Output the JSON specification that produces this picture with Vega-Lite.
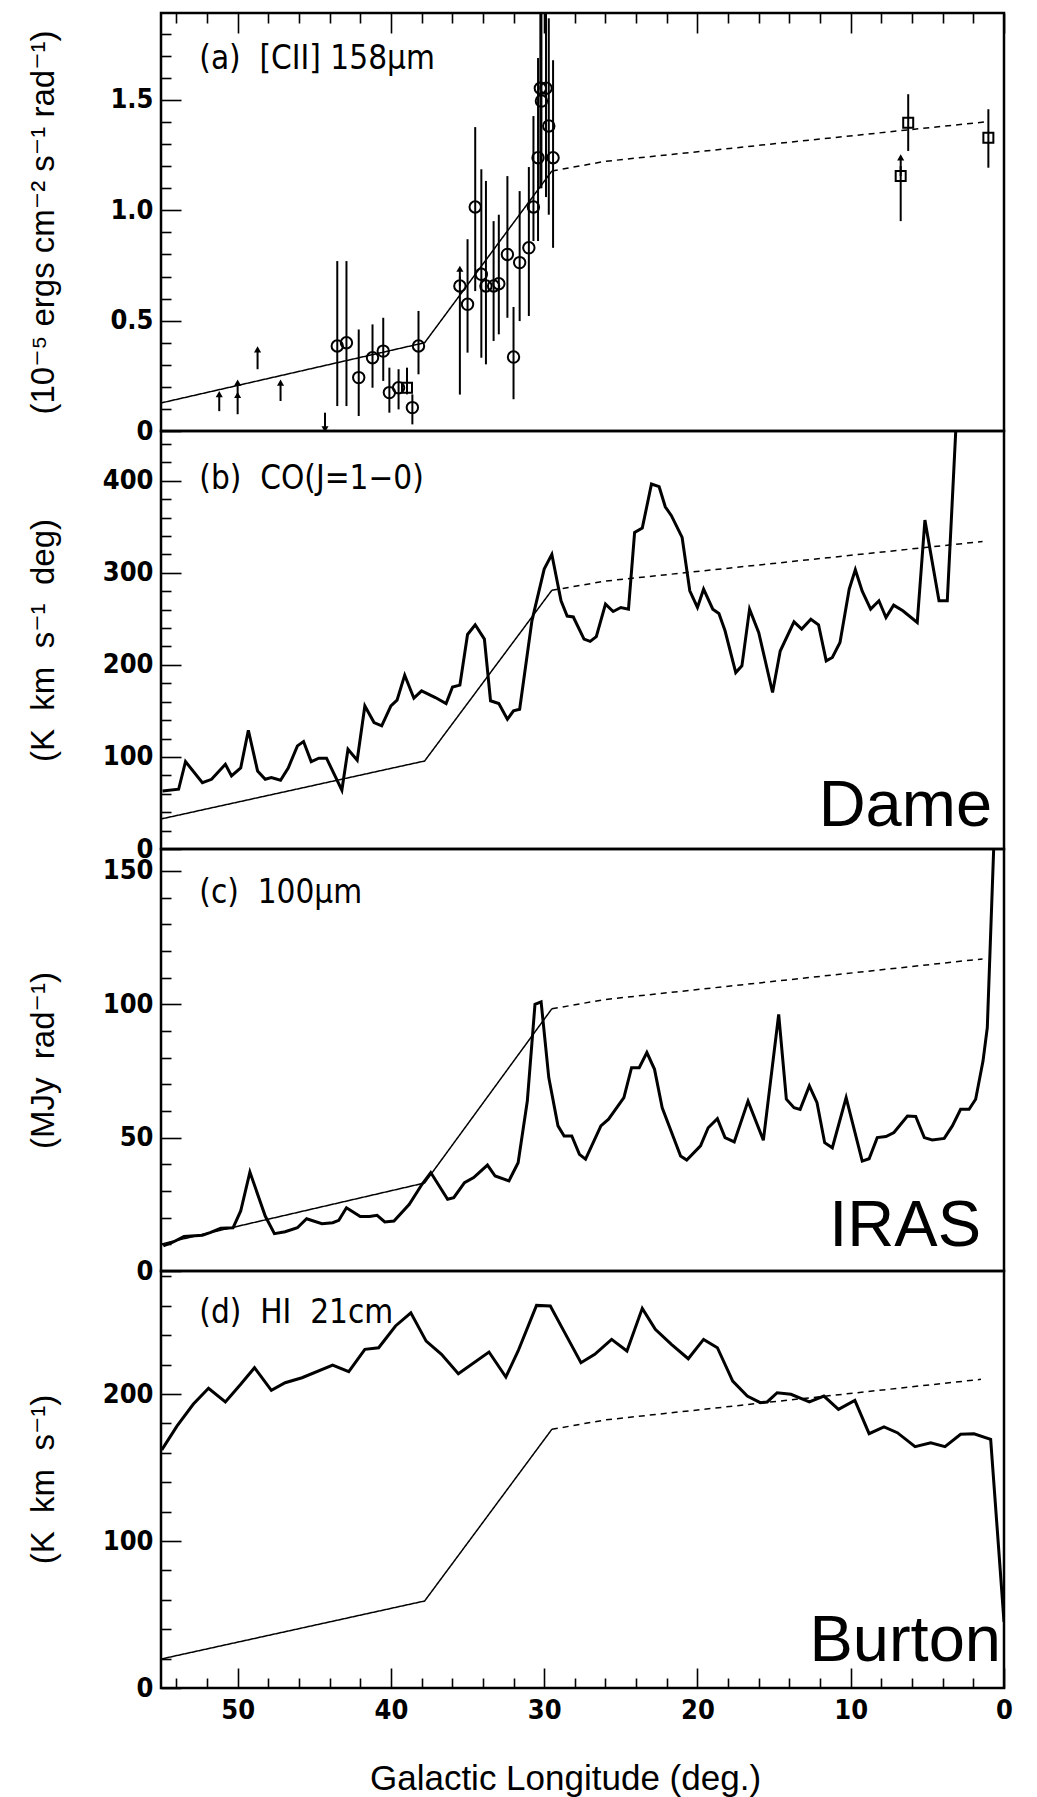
{
  "$schema": "https://vega.github.io/schema/vega-lite/v6.json",
  "padding": {"left": 25, "top": 10, "right": 31, "bottom": 4},
  "bounds": "flush",
  "spacing": 0,
  "resolve": {"scale": {"x": "independent", "y": "independent"}},
  "config": {
    "view": {"stroke": "black", "strokeWidth": 2.5},
    "axis": {
      "domain": false, "grid": false, "tickColor": "black", "tickWidth": 1.6,
      "labelColor": "black", "labelFont": "Liberation Sans Narrow, DejaVu Sans Condensed, Liberation Sans, sans-serif",
      "labelFontWeight": "bold", "labelFontSize": 27, "labelOverlap": false, "labelFlush": false,
      "titleColor": "black", "titleFont": "Liberation Sans, DejaVu Sans, sans-serif", "titleFontSize": 33, "titleFontWeight": "normal"
    }
  },
  "datasets": {
    "model": [
      {"p": "a", "seg": "solid", "l": 55, "v": 0.127}, {"p": "a", "seg": "solid", "l": 37.8, "v": 0.40}, {"p": "a", "seg": "solid", "l": 29.5, "v": 1.178},
      {"p": "a", "seg": "dashed", "l": 29.5, "v": 1.178}, {"p": "a", "seg": "dashed", "l": 26, "v": 1.222}, {"p": "a", "seg": "dashed", "l": 1.3, "v": 1.40},
      {"p": "b", "seg": "solid", "l": 55, "v": 32.6}, {"p": "b", "seg": "solid", "l": 37.8, "v": 95.6}, {"p": "b", "seg": "solid", "l": 29.5, "v": 281},
      {"p": "b", "seg": "dashed", "l": 29.5, "v": 281}, {"p": "b", "seg": "dashed", "l": 26, "v": 291}, {"p": "b", "seg": "dashed", "l": 1.4, "v": 334},
      {"p": "c", "seg": "solid", "l": 55, "v": 10.1}, {"p": "c", "seg": "solid", "l": 37.8, "v": 33}, {"p": "c", "seg": "solid", "l": 29.5, "v": 98.3},
      {"p": "c", "seg": "dashed", "l": 29.5, "v": 98.3}, {"p": "c", "seg": "dashed", "l": 26, "v": 101.8}, {"p": "c", "seg": "dashed", "l": 1.4, "v": 117},
      {"p": "d", "seg": "solid", "l": 55, "v": 19.7}, {"p": "d", "seg": "solid", "l": 37.8, "v": 59.2}, {"p": "d", "seg": "solid", "l": 29.5, "v": 176},
      {"p": "d", "seg": "dashed", "l": 29.5, "v": 176}, {"p": "d", "seg": "dashed", "l": 26, "v": 182.4}, {"p": "d", "seg": "dashed", "l": 1.5, "v": 210}
    ],
    "cii": [
      {"k": "c", "l": 43.5, "v": 0.385, "lo": 0.113, "hi": 0.77},
      {"k": "c", "l": 42.9, "v": 0.40, "lo": 0.113, "hi": 0.77},
      {"k": "c", "l": 42.1, "v": 0.242, "lo": 0.068, "hi": 0.46},
      {"k": "c", "l": 41.2, "v": 0.332, "lo": 0.196, "hi": 0.483},
      {"k": "c", "l": 40.5, "v": 0.362, "lo": 0.227, "hi": 0.513},
      {"k": "c", "l": 40.1, "v": 0.174, "lo": 0.083, "hi": 0.287},
      {"k": "c", "l": 39.5, "v": 0.196, "lo": 0.098, "hi": 0.28},
      {"k": "s", "l": 38.95, "v": 0.196, "lo": 0.166, "hi": 0.287},
      {"k": "c", "l": 38.6, "v": 0.106, "lo": 0.03, "hi": 0.166},
      {"k": "c", "l": 38.2, "v": 0.385, "lo": 0.257, "hi": 0.544},
      {"k": "c", "l": 35.5, "v": 0.657, "lo": 0.165, "hi": 0.70},
      {"k": "c", "l": 35.0, "v": 0.574, "lo": 0.355, "hi": 0.869},
      {"k": "c", "l": 34.5, "v": 1.015, "lo": 0.634, "hi": 1.377},
      {"k": "c", "l": 34.1, "v": 0.71, "lo": 0.332, "hi": 1.186},
      {"k": "c", "l": 33.8, "v": 0.657, "lo": 0.302, "hi": 1.133},
      {"k": "c", "l": 33.3, "v": 0.657, "lo": 0.408, "hi": 0.951},
      {"k": "c", "l": 32.96, "v": 0.667, "lo": 0.438, "hi": 0.98},
      {"k": "c", "l": 32.4, "v": 0.80, "lo": 0.513, "hi": 1.155},
      {"k": "c", "l": 32.0, "v": 0.335, "lo": 0.144, "hi": 0.562},
      {"k": "c", "l": 31.6, "v": 0.763, "lo": 0.498, "hi": 1.087},
      {"k": "c", "l": 31.0, "v": 0.83, "lo": 0.521, "hi": 1.196},
      {"k": "c", "l": 30.7, "v": 1.015, "lo": 0.861, "hi": 1.427},
      {"k": "c", "l": 30.4, "v": 1.238, "lo": 0.861, "hi": 1.69},
      {"k": "c", "l": 30.25, "v": 1.553, "lo": 1.10, "hi": 1.95},
      {"k": "c", "l": 30.18, "v": 1.495, "lo": 1.10, "hi": 1.95},
      {"k": "c", "l": 29.88, "v": 1.553, "lo": 1.06, "hi": 1.95},
      {"k": "c", "l": 29.7, "v": 1.382, "lo": 0.98, "hi": 1.87},
      {"k": "c", "l": 29.42, "v": 1.238, "lo": 0.83, "hi": 1.68},
      {"k": "s", "l": 6.25, "v": 1.397, "lo": 1.269, "hi": 1.526},
      {"k": "s", "l": 6.74, "v": 1.155, "lo": 0.951, "hi": 1.20},
      {"k": "s", "l": 1.02, "v": 1.329, "lo": 1.193, "hi": 1.458}
    ],
    "arrows": [
      {"d": "up", "l": 51.2, "b": 0.09, "h": 0.167},
      {"d": "up", "l": 50.0, "b": 0.076, "h": 0.163},
      {"d": "up", "l": 50.0, "b": 0.163, "h": 0.219},
      {"d": "up", "l": 48.7, "b": 0.28, "h": 0.37},
      {"d": "up", "l": 47.2, "b": 0.136, "h": 0.219},
      {"d": "up", "l": 35.5, "b": 0.657, "h": 0.735},
      {"d": "up", "l": 6.74, "b": 1.155, "h": 1.24},
      {"d": "down", "l": 44.3, "b": 0.083, "h": 0.008}
    ],
    "co": [
      {"l": 54.9, "v": 63}, {"l": 53.85, "v": 64.9}, {"l": 53.4, "v": 94.9}, {"l": 52.3, "v": 72}, {"l": 51.7, "v": 75.7},
      {"l": 50.8, "v": 92}, {"l": 50.4, "v": 79.3}, {"l": 49.8, "v": 88}, {"l": 49.3, "v": 129}, {"l": 48.7, "v": 84.8},
      {"l": 48.2, "v": 75.7}, {"l": 47.8, "v": 77.5}, {"l": 47.2, "v": 74.6}, {"l": 46.7, "v": 88}, {"l": 46.1, "v": 112},
      {"l": 45.7, "v": 116.7}, {"l": 45.2, "v": 94.9}, {"l": 44.7, "v": 98.6}, {"l": 44.2, "v": 98.6}, {"l": 43.2, "v": 63.8},
      {"l": 42.8, "v": 108.3}, {"l": 42.2, "v": 96.4}, {"l": 41.7, "v": 155.4}, {"l": 41.1, "v": 137.3}, {"l": 40.6, "v": 133.7},
      {"l": 40.0, "v": 155.4}, {"l": 39.6, "v": 161.6}, {"l": 39.1, "v": 188.8}, {"l": 38.5, "v": 163.8}, {"l": 38.0, "v": 171.7},
      {"l": 37.1, "v": 164.5}, {"l": 36.4, "v": 158}, {"l": 35.98, "v": 176}, {"l": 35.5, "v": 178}, {"l": 35.0, "v": 233},
      {"l": 34.5, "v": 243.5}, {"l": 33.9, "v": 228}, {"l": 33.5, "v": 161}, {"l": 32.96, "v": 158}, {"l": 32.4, "v": 141},
      {"l": 32.0, "v": 150}, {"l": 31.6, "v": 151.8}, {"l": 30.8, "v": 247.8}, {"l": 30.0, "v": 304}, {"l": 29.5, "v": 320},
      {"l": 28.9, "v": 269.6}, {"l": 28.5, "v": 253}, {"l": 28.1, "v": 252}, {"l": 27.4, "v": 228}, {"l": 27.0, "v": 225.5},
      {"l": 26.6, "v": 230.6}, {"l": 26.0, "v": 266}, {"l": 25.5, "v": 258}, {"l": 25.0, "v": 262.3}, {"l": 24.5, "v": 260.5},
      {"l": 24.1, "v": 343.8}, {"l": 23.6, "v": 348.5}, {"l": 23.0, "v": 396.4}, {"l": 22.5, "v": 393.5}, {"l": 22.1, "v": 371.7},
      {"l": 21.7, "v": 362}, {"l": 21.0, "v": 338.4}, {"l": 20.5, "v": 280.4}, {"l": 20.0, "v": 262.3}, {"l": 19.6, "v": 282.2},
      {"l": 19.0, "v": 260.5}, {"l": 18.6, "v": 255.8}, {"l": 18.2, "v": 237}, {"l": 17.5, "v": 191.6}, {"l": 17.1, "v": 198.9},
      {"l": 16.6, "v": 260.5}, {"l": 16.0, "v": 235}, {"l": 15.1, "v": 170}, {"l": 14.6, "v": 215}, {"l": 13.7, "v": 246.7},
      {"l": 13.2, "v": 238.8}, {"l": 12.6, "v": 249.6}, {"l": 12.1, "v": 243.5}, {"l": 11.6, "v": 204.3}, {"l": 11.2, "v": 208},
      {"l": 10.7, "v": 224.3}, {"l": 10.1, "v": 282.2}, {"l": 9.7, "v": 303.3}, {"l": 9.25, "v": 280}, {"l": 8.7, "v": 260.5},
      {"l": 8.16, "v": 269.6}, {"l": 7.7, "v": 251.4}, {"l": 7.2, "v": 264.9}, {"l": 6.6, "v": 258.7}, {"l": 5.66, "v": 246},
      {"l": 5.16, "v": 357.2}, {"l": 4.24, "v": 269.6}, {"l": 3.7, "v": 269.6}, {"l": 3.1, "v": 470}
    ],
    "iras": [
      {"l": 54.85, "v": 9.4}, {"l": 54.3, "v": 10.6}, {"l": 53.5, "v": 12.9}, {"l": 52.3, "v": 13.4}, {"l": 51.8, "v": 14.4},
      {"l": 51.1, "v": 16.0}, {"l": 50.3, "v": 16.2}, {"l": 49.8, "v": 22.5}, {"l": 49.2, "v": 37.1}, {"l": 48.2, "v": 20.6},
      {"l": 47.6, "v": 14.0}, {"l": 46.9, "v": 14.7}, {"l": 46.1, "v": 16.2}, {"l": 45.5, "v": 19.6}, {"l": 44.5, "v": 17.7},
      {"l": 43.8, "v": 18.1}, {"l": 43.4, "v": 19.0}, {"l": 42.9, "v": 23.7}, {"l": 42.0, "v": 20.4}, {"l": 41.4, "v": 20.4},
      {"l": 40.9, "v": 20.9}, {"l": 40.4, "v": 18.4}, {"l": 39.8, "v": 18.7}, {"l": 38.8, "v": 25.0}, {"l": 37.97, "v": 32.5},
      {"l": 37.4, "v": 36.9}, {"l": 36.3, "v": 26.9}, {"l": 35.9, "v": 27.5}, {"l": 35.2, "v": 33.1}, {"l": 34.6, "v": 35},
      {"l": 33.7, "v": 39.7}, {"l": 33.2, "v": 35.6}, {"l": 32.3, "v": 33.8}, {"l": 31.7, "v": 40.6}, {"l": 31.1, "v": 63.7},
      {"l": 30.6, "v": 100}, {"l": 30.2, "v": 100.9}, {"l": 29.7, "v": 72.5}, {"l": 29.1, "v": 54.4}, {"l": 28.7, "v": 50.6},
      {"l": 28.2, "v": 50.6}, {"l": 27.7, "v": 43.7}, {"l": 27.3, "v": 41.9}, {"l": 26.3, "v": 54.4}, {"l": 25.8, "v": 56.9},
      {"l": 24.8, "v": 65}, {"l": 24.3, "v": 76.2}, {"l": 23.8, "v": 76.2}, {"l": 23.3, "v": 81.9}, {"l": 22.8, "v": 75.6},
      {"l": 22.3, "v": 61.2}, {"l": 21.1, "v": 43.1}, {"l": 20.7, "v": 41.6}, {"l": 19.8, "v": 46.9}, {"l": 19.3, "v": 53.7},
      {"l": 18.7, "v": 57.1}, {"l": 18.2, "v": 50}, {"l": 17.6, "v": 48.4}, {"l": 16.7, "v": 63.7}, {"l": 15.7, "v": 49},
      {"l": 14.7, "v": 96.2}, {"l": 14.2, "v": 64.4}, {"l": 13.7, "v": 61.2}, {"l": 13.3, "v": 60.6}, {"l": 12.7, "v": 69.4},
      {"l": 12.2, "v": 63.1}, {"l": 11.7, "v": 48.1}, {"l": 11.2, "v": 46.2}, {"l": 10.3, "v": 65}, {"l": 9.25, "v": 41.2},
      {"l": 8.8, "v": 42.1}, {"l": 8.27, "v": 50}, {"l": 7.7, "v": 50.4}, {"l": 7.18, "v": 51.9}, {"l": 6.3, "v": 58.1},
      {"l": 5.76, "v": 57.9}, {"l": 5.2, "v": 50}, {"l": 4.68, "v": 49.1}, {"l": 3.9, "v": 49.7}, {"l": 3.37, "v": 54.4},
      {"l": 2.83, "v": 60.6}, {"l": 2.28, "v": 60.6}, {"l": 1.85, "v": 64.4}, {"l": 1.37, "v": 78.7}, {"l": 1.09, "v": 91.2},
      {"l": 0.6, "v": 170}
    ],
    "hi": [
      {"l": 54.95, "v": 162}, {"l": 53.96, "v": 178.2}, {"l": 52.9, "v": 193}, {"l": 51.9, "v": 203.9}, {"l": 50.8, "v": 194.6},
      {"l": 49.8, "v": 206.6}, {"l": 48.9, "v": 217.9}, {"l": 47.8, "v": 202.5}, {"l": 46.9, "v": 207.7}, {"l": 45.8, "v": 211.1},
      {"l": 43.8, "v": 219.7}, {"l": 42.75, "v": 215.2}, {"l": 41.7, "v": 230.4}, {"l": 40.8, "v": 231.5}, {"l": 39.7, "v": 246.3},
      {"l": 38.7, "v": 255.3}, {"l": 37.7, "v": 236}, {"l": 36.7, "v": 227}, {"l": 35.6, "v": 213.8}, {"l": 33.6, "v": 228.6},
      {"l": 32.5, "v": 211.6}, {"l": 31.7, "v": 229.3}, {"l": 30.5, "v": 260.3}, {"l": 29.6, "v": 259.9}, {"l": 28.6, "v": 240.6},
      {"l": 27.6, "v": 221.3}, {"l": 26.7, "v": 227}, {"l": 25.6, "v": 237.2}, {"l": 24.6, "v": 229.3}, {"l": 23.6, "v": 258.3},
      {"l": 22.75, "v": 244}, {"l": 21.7, "v": 233.8}, {"l": 20.6, "v": 224}, {"l": 19.6, "v": 237.2}, {"l": 18.7, "v": 231.5},
      {"l": 17.7, "v": 208.8}, {"l": 16.75, "v": 198.6}, {"l": 15.9, "v": 194.1}, {"l": 15.45, "v": 194.6}, {"l": 14.8, "v": 200.9},
      {"l": 13.9, "v": 199.8}, {"l": 12.7, "v": 194.6}, {"l": 11.75, "v": 198.6}, {"l": 10.8, "v": 189.6}, {"l": 9.73, "v": 195.7},
      {"l": 8.8, "v": 173}, {"l": 7.83, "v": 177.6}, {"l": 6.96, "v": 173.7}, {"l": 5.8, "v": 164.2}, {"l": 4.78, "v": 166.9},
      {"l": 3.85, "v": 164.2}, {"l": 2.83, "v": 172.6}, {"l": 1.96, "v": 173}, {"l": 0.87, "v": 169.2}, {"l": 0.0, "v": 45}
    ],
    "notes": [
      {"p": "a", "k": "title", "l": 52.5, "v": 1.64, "t": "(a)\u00a0\u00a0[CII]\u00a0158μm"},
      {"p": "b", "k": "title", "l": 52.5, "v": 391, "t": "(b)\u00a0\u00a0CO(J=1−0)"},
      {"p": "c", "k": "title", "l": 52.5, "v": 138, "t": "(c)\u00a0\u00a0100μm"},
      {"p": "d", "k": "title", "l": 52.5, "v": 248, "t": "(d)\u00a0\u00a0HI\u00a0\u00a021cm"},
      {"p": "b", "k": "src", "l": 0.78, "v": 25, "t": "Dame"},
      {"p": "c", "k": "src", "l": 1.5, "v": 9.4, "t": "IRAS"},
      {"p": "d", "k": "src", "l": 0.2, "v": 18.4, "t": "Burton"}
    ]
  },
  "vconcat": [
    {
      "width": 843, "height": 418,
      "encoding": {
        "x": {"field": "l", "type": "quantitative", "scale": {"domain": [55, 0], "nice": false},
          "axis": {"orient": "top", "values": [0,2,4,6,8,10,12,14,16,18,20,22,24,26,28,30,32,34,36,38,40,42,44,46,48,50,52,54],
            "tickCount": 100, "labels": false, "title": null,
            "tickSize": {"condition": {"test": "datum.value % 10 === 0", "value": -20}, "value": -10}}}
      },
      "layer": [
        {
          "data": {"name": "model"},
          "transform": [{"filter": "datum.p === 'a'"}],
          "mark": {"type": "line", "color": "black", "strokeWidth": 1.5},
          "encoding": {
            "y": {"field": "v", "type": "quantitative", "scale": {"domain": [0, 1.894], "nice": false},
              "title": "(10⁻⁵ ergs cm⁻² s⁻¹ rad⁻¹)",
              "axis": {
                "values": [0,0.1,0.2,0.3,0.4,0.5,0.6,0.7,0.8,0.9,1,1.1,1.2,1.3,1.4,1.5,1.6,1.7,1.8],
                "tickCount": 100,
                "tickSize": {"condition": {"test": "abs(datum.value*2 - round(datum.value*2)) < 0.01", "value": -20}, "value": -10},
                "labelExpr": "abs(datum.value*2 - round(datum.value*2)) < 0.01 ? (datum.value === 0 ? '0' : format(datum.value, '.1f')) : ''",
                "labelOverlap": false,
                "labelPadding": 28, "titleX": -118, "titleY": 209, "titleBaseline": "middle"}},
            "strokeDash": {"field": "seg", "type": "nominal", "scale": {"domain": ["solid", "dashed"], "range": [[1, 0], [6, 5]]}, "legend": null}
          }
        },
        {
          "data": {"name": "cii"},
          "mark": {"type": "rule", "color": "black", "strokeWidth": 2, "clip": true},
          "encoding": {"y": {"field": "lo", "type": "quantitative", "title": "(10⁻⁵ ergs cm⁻² s⁻¹ rad⁻¹)"}, "y2": {"field": "hi"}}
        },
        {
          "data": {"name": "cii"},
          "transform": [{"filter": "datum.k === 'c'"}],
          "mark": {"type": "point", "shape": "circle", "filled": false, "color": "black", "strokeWidth": 2, "size": 130, "opacity": 1},
          "encoding": {"y": {"field": "v", "type": "quantitative", "title": "(10⁻⁵ ergs cm⁻² s⁻¹ rad⁻¹)"}}
        },
        {
          "data": {"name": "cii"},
          "transform": [{"filter": "datum.k === 's'"}],
          "mark": {"type": "point", "shape": "square", "filled": false, "color": "black", "strokeWidth": 2, "size": 100, "opacity": 1},
          "encoding": {"y": {"field": "v", "type": "quantitative", "title": "(10⁻⁵ ergs cm⁻² s⁻¹ rad⁻¹)"}}
        },
        {
          "data": {"name": "arrows"},
          "mark": {"type": "rule", "color": "black", "strokeWidth": 2},
          "encoding": {"y": {"field": "b", "type": "quantitative", "title": "(10⁻⁵ ergs cm⁻² s⁻¹ rad⁻¹)"}, "y2": {"field": "h"}}
        },
        {
          "data": {"name": "arrows"},
          "transform": [{"filter": "datum.d === 'up'"}],
          "mark": {"type": "point", "shape": "triangle-up", "filled": true, "color": "black", "size": 50, "opacity": 1},
          "encoding": {"y": {"field": "h", "type": "quantitative", "title": "(10⁻⁵ ergs cm⁻² s⁻¹ rad⁻¹)"}}
        },
        {
          "data": {"name": "arrows"},
          "transform": [{"filter": "datum.d === 'down'"}],
          "mark": {"type": "point", "shape": "triangle-down", "filled": true, "color": "black", "size": 50, "opacity": 1},
          "encoding": {"y": {"field": "h", "type": "quantitative", "title": "(10⁻⁵ ergs cm⁻² s⁻¹ rad⁻¹)"}}
        },
        {
          "data": {"name": "notes"},
          "transform": [{"filter": "datum.p === 'a'"}],
          "mark": {"type": "text", "align": "left", "baseline": "alphabetic", "fontSize": 33, "color": "black", "font": "Liberation Sans Narrow, DejaVu Sans Condensed, Liberation Sans, sans-serif"},
          "encoding": {"y": {"field": "v", "type": "quantitative", "title": "(10⁻⁵ ergs cm⁻² s⁻¹ rad⁻¹)"}, "text": {"field": "t"}}
        }
      ]
    },
    {
      "width": 843, "height": 418,
      "encoding": {
        "x": {"field": "l", "type": "quantitative", "scale": {"domain": [55, 0], "nice": false}, "axis": null}
      },
      "layer": [
        {
          "data": {"name": "model"},
          "transform": [{"filter": "datum.p === 'b'"}],
          "mark": {"type": "line", "color": "black", "strokeWidth": 1.5},
          "encoding": {
            "y": {"field": "v", "type": "quantitative", "scale": {"domain": [0, 454], "nice": false},
              "title": "(K\u00a0\u00a0km\u00a0\u00a0s⁻¹\u00a0\u00a0deg)",
              "axis": {
                "values": [0,20,40,60,80,100,120,140,160,180,200,220,240,260,280,300,320,340,360,380,400,420,440],
                "tickCount": 100,
                "tickSize": {"condition": {"test": "datum.value % 100 === 0", "value": -20}, "value": -10},
                "labelExpr": "datum.value % 100 === 0 ? format(datum.value, 'd') : ''",
                "labelOverlap": false,
                "labelPadding": 28, "titleX": -118, "titleY": 209, "titleBaseline": "middle"}},
            "strokeDash": {"field": "seg", "type": "nominal", "scale": {"domain": ["solid", "dashed"], "range": [[1, 0], [6, 5]]}, "legend": null}
          }
        },
        {
          "data": {"name": "co"},
          "mark": {"type": "line", "color": "black", "strokeWidth": 3, "clip": true},
          "encoding": {"y": {"field": "v", "type": "quantitative", "title": "(K\u00a0\u00a0km\u00a0\u00a0s⁻¹\u00a0\u00a0deg)"}}
        },
        {
          "data": {"name": "notes"},
          "transform": [{"filter": "datum.p === 'b' && datum.k === 'title'"}],
          "mark": {"type": "text", "align": "left", "baseline": "alphabetic", "fontSize": 33, "color": "black", "font": "Liberation Sans Narrow, DejaVu Sans Condensed, Liberation Sans, sans-serif"},
          "encoding": {"y": {"field": "v", "type": "quantitative", "title": "(K\u00a0\u00a0km\u00a0\u00a0s⁻¹\u00a0\u00a0deg)"}, "text": {"field": "t"}}
        },
        {
          "data": {"name": "notes"},
          "transform": [{"filter": "datum.p === 'b' && datum.k === 'src'"}],
          "mark": {"type": "text", "align": "right", "baseline": "alphabetic", "fontSize": 65, "color": "black", "font": "Liberation Sans, Arial, sans-serif"},
          "encoding": {"y": {"field": "v", "type": "quantitative", "title": "(K\u00a0\u00a0km\u00a0\u00a0s⁻¹\u00a0\u00a0deg)"}, "text": {"field": "t"}}
        }
      ]
    },
    {
      "width": 843, "height": 422,
      "encoding": {
        "x": {"field": "l", "type": "quantitative", "scale": {"domain": [55, 0], "nice": false}, "axis": null}
      },
      "layer": [
        {
          "data": {"name": "model"},
          "transform": [{"filter": "datum.p === 'c'"}],
          "mark": {"type": "line", "color": "black", "strokeWidth": 1.5},
          "encoding": {
            "y": {"field": "v", "type": "quantitative", "scale": {"domain": [0, 158.2], "nice": false},
              "title": "(MJy\u00a0\u00a0rad⁻¹)",
              "axis": {
                "values": [0,10,20,30,40,50,60,70,80,90,100,110,120,130,140,150],
                "tickCount": 100,
                "tickSize": {"condition": {"test": "datum.value % 50 === 0", "value": -20}, "value": -10},
                "labelExpr": "datum.value % 50 === 0 ? format(datum.value, 'd') : ''",
                "labelOverlap": false,
                "labelPadding": 28, "titleX": -118, "titleY": 211, "titleBaseline": "middle"}},
            "strokeDash": {"field": "seg", "type": "nominal", "scale": {"domain": ["solid", "dashed"], "range": [[1, 0], [6, 5]]}, "legend": null}
          }
        },
        {
          "data": {"name": "iras"},
          "mark": {"type": "line", "color": "black", "strokeWidth": 3, "clip": true},
          "encoding": {"y": {"field": "v", "type": "quantitative", "title": "(MJy\u00a0\u00a0rad⁻¹)"}}
        },
        {
          "data": {"name": "notes"},
          "transform": [{"filter": "datum.p === 'c' && datum.k === 'title'"}],
          "mark": {"type": "text", "align": "left", "baseline": "alphabetic", "fontSize": 33, "color": "black", "font": "Liberation Sans Narrow, DejaVu Sans Condensed, Liberation Sans, sans-serif"},
          "encoding": {"y": {"field": "v", "type": "quantitative", "title": "(MJy\u00a0\u00a0rad⁻¹)"}, "text": {"field": "t"}}
        },
        {
          "data": {"name": "notes"},
          "transform": [{"filter": "datum.p === 'c' && datum.k === 'src'"}],
          "mark": {"type": "text", "align": "right", "baseline": "alphabetic", "fontSize": 65, "color": "black", "font": "Liberation Sans, Arial, sans-serif"},
          "encoding": {"y": {"field": "v", "type": "quantitative", "title": "(MJy\u00a0\u00a0rad⁻¹)"}, "text": {"field": "t"}}
        }
      ]
    },
    {
      "width": 843, "height": 417,
      "encoding": {
        "x": {"field": "l", "type": "quantitative", "scale": {"domain": [55, 0], "nice": false},
          "axis": {"orient": "bottom", "title": "Galactic Longitude (deg.)",
            "values": [0,2,4,6,8,10,12,14,16,18,20,22,24,26,28,30,32,34,36,38,40,42,44,46,48,50,52,54],
            "tickCount": 100,
            "tickSize": {"condition": {"test": "datum.value % 10 === 0", "value": -20}, "value": -10},
            "labelExpr": "datum.value % 10 === 0 ? format(datum.value, 'd') : ''",
            "labelOverlap": false,
            "labelPadding": 29, "titleX": 404, "titleY": 90, "titleBaseline": "middle", "titleFontSize": 35}}
      },
      "layer": [
        {
          "data": {"name": "model"},
          "transform": [{"filter": "datum.p === 'd'"}],
          "mark": {"type": "line", "color": "black", "strokeWidth": 1.5},
          "encoding": {
            "y": {"field": "v", "type": "quantitative", "scale": {"domain": [0, 283.7], "nice": false},
              "title": "(K\u00a0\u00a0km\u00a0\u00a0s⁻¹)",
              "axis": {
                "values": [0,20,40,60,80,100,120,140,160,180,200,220,240,260,280],
                "tickCount": 100,
                "tickSize": {"condition": {"test": "datum.value % 100 === 0", "value": -20}, "value": -10},
                "labelExpr": "datum.value % 100 === 0 ? format(datum.value, 'd') : ''",
                "labelOverlap": false,
                "labelPadding": 28, "titleX": -118, "titleY": 208, "titleBaseline": "middle"}},
            "strokeDash": {"field": "seg", "type": "nominal", "scale": {"domain": ["solid", "dashed"], "range": [[1, 0], [6, 5]]}, "legend": null}
          }
        },
        {
          "data": {"name": "hi"},
          "mark": {"type": "line", "color": "black", "strokeWidth": 3, "clip": true},
          "encoding": {"y": {"field": "v", "type": "quantitative", "title": "(K\u00a0\u00a0km\u00a0\u00a0s⁻¹)"}}
        },
        {
          "data": {"name": "notes"},
          "transform": [{"filter": "datum.p === 'd' && datum.k === 'title'"}],
          "mark": {"type": "text", "align": "left", "baseline": "alphabetic", "fontSize": 33, "color": "black", "font": "Liberation Sans Narrow, DejaVu Sans Condensed, Liberation Sans, sans-serif"},
          "encoding": {"y": {"field": "v", "type": "quantitative", "title": "(K\u00a0\u00a0km\u00a0\u00a0s⁻¹)"}, "text": {"field": "t"}}
        },
        {
          "data": {"name": "notes"},
          "transform": [{"filter": "datum.p === 'd' && datum.k === 'src'"}],
          "mark": {"type": "text", "align": "right", "baseline": "alphabetic", "fontSize": 65, "color": "black", "font": "Liberation Sans, Arial, sans-serif"},
          "encoding": {"y": {"field": "v", "type": "quantitative", "title": "(K\u00a0\u00a0km\u00a0\u00a0s⁻¹)"}, "text": {"field": "t"}}
        }
      ]
    }
  ]
}
